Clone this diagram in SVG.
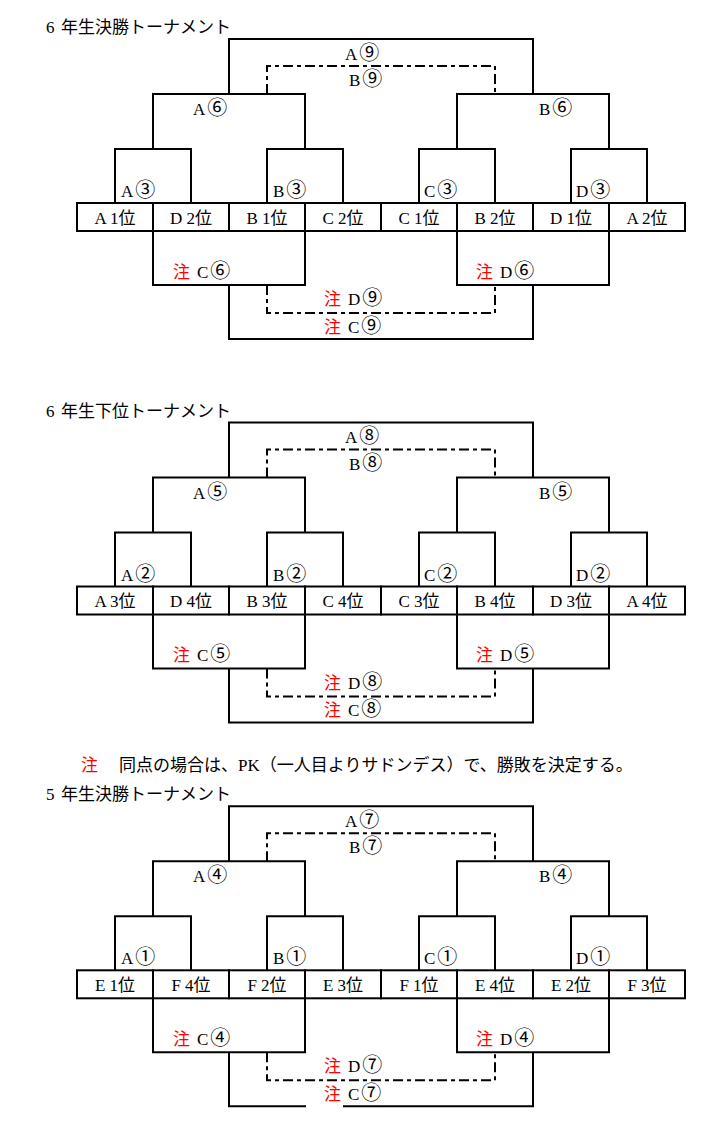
<svg xmlns="http://www.w3.org/2000/svg" width="716" height="1131" viewBox="0 0 716 1131">
<style>
text{font-family:"Liberation Serif","Noto Sans CJK JP",serif;font-size:17px;fill:#000}
.c{text-anchor:middle}
.r{fill:#f00}
.n{font-family:"Noto Sans CJK JP",sans-serif;font-size:20px}
.ln{fill:none;stroke:#000;stroke-width:2}
.ds{fill:none;stroke:#000;stroke-width:2;stroke-dasharray:10 4 4 4}
.cell{fill:#fff;stroke:#000;stroke-width:2}
</style>
<rect width="716" height="1131" fill="#fff"/>

<!-- Tournament 1 -->
<g id="t1">
<text id="t1-title" x="46" y="33">6<tspan x="61">年生決勝トーナメント</tspan></text>
<g id="t1-connectors">
<path class="ln" d="M229,94V39H533V94"/>
<path class="ds" d="M267,94V66H495V94"/>
<path class="ln" d="M153,149V94H305V149M457,149V94H609V149"/>
<path class="ln" d="M115,203V149H191V203M267,203V149H343V203M419,203V149H495V203M571,203V149H647V203"/>
<path class="ln" d="M153,231V285H305V231M457,231V285H609V231"/>
<path class="ln" d="M229,285V339H533V285"/>
<path class="ds" d="M267,285V313H495V285"/>
</g>
<g id="t1-cells">
<g id="t1-c1"><rect class="cell" x="77" y="203" width="76" height="28"/><text class="c" x="115" y="223.5">A 1位</text></g>
<g id="t1-c2"><rect class="cell" x="153" y="203" width="76" height="28"/><text class="c" x="191" y="223.5">D 2位</text></g>
<g id="t1-c3"><rect class="cell" x="229" y="203" width="76" height="28"/><text class="c" x="267" y="223.5">B 1位</text></g>
<g id="t1-c4"><rect class="cell" x="305" y="203" width="76" height="28"/><text class="c" x="343" y="223.5">C 2位</text></g>
<g id="t1-c5"><rect class="cell" x="381" y="203" width="76" height="28"/><text class="c" x="419" y="223.5">C 1位</text></g>
<g id="t1-c6"><rect class="cell" x="457" y="203" width="76" height="28"/><text class="c" x="495" y="223.5">B 2位</text></g>
<g id="t1-c7"><rect class="cell" x="533" y="203" width="76" height="28"/><text class="c" x="571" y="223.5">D 1位</text></g>
<g id="t1-c8"><rect class="cell" x="609" y="203" width="76" height="28"/><text class="c" x="647" y="223.5">A 2位</text></g>
</g>
<g id="t1-labels">
<text x="345" y="59.5">A<tspan class="n" dx="2">⑨</tspan></text>
<text x="349" y="86">B<tspan class="n" dx="2">⑨</tspan></text>
<text x="193" y="115">A<tspan class="n" dx="2">⑥</tspan></text>
<text x="539" y="115">B<tspan class="n" dx="2">⑥</tspan></text>
<text x="121" y="197">A<tspan class="n" dx="2">③</tspan></text>
<text x="273" y="197">B<tspan class="n" dx="2">③</tspan></text>
<text x="424" y="197">C<tspan class="n" dx="2">③</tspan></text>
<text x="576" y="197">D<tspan class="n" dx="2">③</tspan></text>
<text x="173" y="277.5"><tspan class="r">注</tspan><tspan x="197">C</tspan><tspan class="n" dx="2">⑥</tspan></text>
<text x="476" y="277.5"><tspan class="r">注</tspan><tspan x="500">D</tspan><tspan class="n" dx="2">⑥</tspan></text>
<text x="324" y="305"><tspan class="r">注</tspan><tspan x="348">D</tspan><tspan class="n" dx="2">⑨</tspan></text>
<text x="324" y="332.5"><tspan class="r">注</tspan><tspan x="348">C</tspan><tspan class="n" dx="2">⑨</tspan></text>
</g>
</g>

<!-- Tournament 2 -->
<g id="t2" transform="translate(0,383.5)">
<text id="t2-title" x="46" y="33">6<tspan x="61">年生下位トーナメント</tspan></text>
<g id="t2-connectors">
<path class="ln" d="M229,94V39H533V94"/>
<path class="ds" d="M267,94V66H495V94"/>
<path class="ln" d="M153,149V94H305V149M457,149V94H609V149"/>
<path class="ln" d="M115,203V149H191V203M267,203V149H343V203M419,203V149H495V203M571,203V149H647V203"/>
<path class="ln" d="M153,231V285H305V231M457,231V285H609V231"/>
<path class="ln" d="M229,285V339H533V285"/>
<path class="ds" d="M267,285V313H495V285"/>
</g>
<g id="t2-cells">
<g id="t2-c1"><rect class="cell" x="77" y="203" width="76" height="28"/><text class="c" x="115" y="223.5">A 3位</text></g>
<g id="t2-c2"><rect class="cell" x="153" y="203" width="76" height="28"/><text class="c" x="191" y="223.5">D 4位</text></g>
<g id="t2-c3"><rect class="cell" x="229" y="203" width="76" height="28"/><text class="c" x="267" y="223.5">B 3位</text></g>
<g id="t2-c4"><rect class="cell" x="305" y="203" width="76" height="28"/><text class="c" x="343" y="223.5">C 4位</text></g>
<g id="t2-c5"><rect class="cell" x="381" y="203" width="76" height="28"/><text class="c" x="419" y="223.5">C 3位</text></g>
<g id="t2-c6"><rect class="cell" x="457" y="203" width="76" height="28"/><text class="c" x="495" y="223.5">B 4位</text></g>
<g id="t2-c7"><rect class="cell" x="533" y="203" width="76" height="28"/><text class="c" x="571" y="223.5">D 3位</text></g>
<g id="t2-c8"><rect class="cell" x="609" y="203" width="76" height="28"/><text class="c" x="647" y="223.5">A 4位</text></g>
</g>
<g id="t2-labels">
<text x="345" y="59.5">A<tspan class="n" dx="2">⑧</tspan></text>
<text x="349" y="86">B<tspan class="n" dx="2">⑧</tspan></text>
<text x="193" y="115">A<tspan class="n" dx="2">⑤</tspan></text>
<text x="539" y="115">B<tspan class="n" dx="2">⑤</tspan></text>
<text x="121" y="197">A<tspan class="n" dx="2">②</tspan></text>
<text x="273" y="197">B<tspan class="n" dx="2">②</tspan></text>
<text x="424" y="197">C<tspan class="n" dx="2">②</tspan></text>
<text x="576" y="197">D<tspan class="n" dx="2">②</tspan></text>
<text x="173" y="277.5"><tspan class="r">注</tspan><tspan x="197">C</tspan><tspan class="n" dx="2">⑤</tspan></text>
<text x="476" y="277.5"><tspan class="r">注</tspan><tspan x="500">D</tspan><tspan class="n" dx="2">⑤</tspan></text>
<text x="324" y="305"><tspan class="r">注</tspan><tspan x="348">D</tspan><tspan class="n" dx="2">⑧</tspan></text>
<text x="324" y="332.5"><tspan class="r">注</tspan><tspan x="348">C</tspan><tspan class="n" dx="2">⑧</tspan></text>
</g>
</g>

<!-- Footnote -->
<text id="note" x="81" y="771"><tspan class="r">注</tspan><tspan x="119">同点の場合は、PK（一人目よりサドンデス）で、勝敗を決定する。</tspan></text>

<!-- Tournament 3 -->
<g id="t3" transform="translate(0,767.3)">
<text id="t3-title" x="46" y="33">5<tspan x="61">年生決勝トーナメント</tspan></text>
<g id="t3-connectors">
<path class="ln" d="M229,94V39H533V94"/>
<path class="ds" d="M267,94V66H495V94"/>
<path class="ln" d="M153,149V94H305V149M457,149V94H609V149"/>
<path class="ln" d="M115,203V149H191V203M267,203V149H343V203M419,203V149H495V203M571,203V149H647V203"/>
<path class="ln" d="M153,231V285H305V231M457,231V285H609V231"/>
<path class="ln" d="M229,285V339H306M343,339H533V285"/>
<path class="ds" d="M267,285V313H495V285"/>
</g>
<g id="t3-cells">
<g id="t3-c1"><rect class="cell" x="77" y="203" width="76" height="28"/><text class="c" x="115" y="223.5">E 1位</text></g>
<g id="t3-c2"><rect class="cell" x="153" y="203" width="76" height="28"/><text class="c" x="191" y="223.5">F 4位</text></g>
<g id="t3-c3"><rect class="cell" x="229" y="203" width="76" height="28"/><text class="c" x="267" y="223.5">F 2位</text></g>
<g id="t3-c4"><rect class="cell" x="305" y="203" width="76" height="28"/><text class="c" x="343" y="223.5">E 3位</text></g>
<g id="t3-c5"><rect class="cell" x="381" y="203" width="76" height="28"/><text class="c" x="419" y="223.5">F 1位</text></g>
<g id="t3-c6"><rect class="cell" x="457" y="203" width="76" height="28"/><text class="c" x="495" y="223.5">E 4位</text></g>
<g id="t3-c7"><rect class="cell" x="533" y="203" width="76" height="28"/><text class="c" x="571" y="223.5">E 2位</text></g>
<g id="t3-c8"><rect class="cell" x="609" y="203" width="76" height="28"/><text class="c" x="647" y="223.5">F 3位</text></g>
</g>
<g id="t3-labels">
<text x="345" y="59.5">A<tspan class="n" dx="2">⑦</tspan></text>
<text x="349" y="86">B<tspan class="n" dx="2">⑦</tspan></text>
<text x="193" y="115">A<tspan class="n" dx="2">④</tspan></text>
<text x="539" y="115">B<tspan class="n" dx="2">④</tspan></text>
<text x="121" y="197">A<tspan class="n" dx="2">①</tspan></text>
<text x="273" y="197">B<tspan class="n" dx="2">①</tspan></text>
<text x="424" y="197">C<tspan class="n" dx="2">①</tspan></text>
<text x="576" y="197">D<tspan class="n" dx="2">①</tspan></text>
<text x="173" y="277.5"><tspan class="r">注</tspan><tspan x="197">C</tspan><tspan class="n" dx="2">④</tspan></text>
<text x="476" y="277.5"><tspan class="r">注</tspan><tspan x="500">D</tspan><tspan class="n" dx="2">④</tspan></text>
<text x="324" y="305"><tspan class="r">注</tspan><tspan x="348">D</tspan><tspan class="n" dx="2">⑦</tspan></text>
<text x="324" y="332.5"><tspan class="r">注</tspan><tspan x="348">C</tspan><tspan class="n" dx="2">⑦</tspan></text>
</g>
</g>
</svg>
